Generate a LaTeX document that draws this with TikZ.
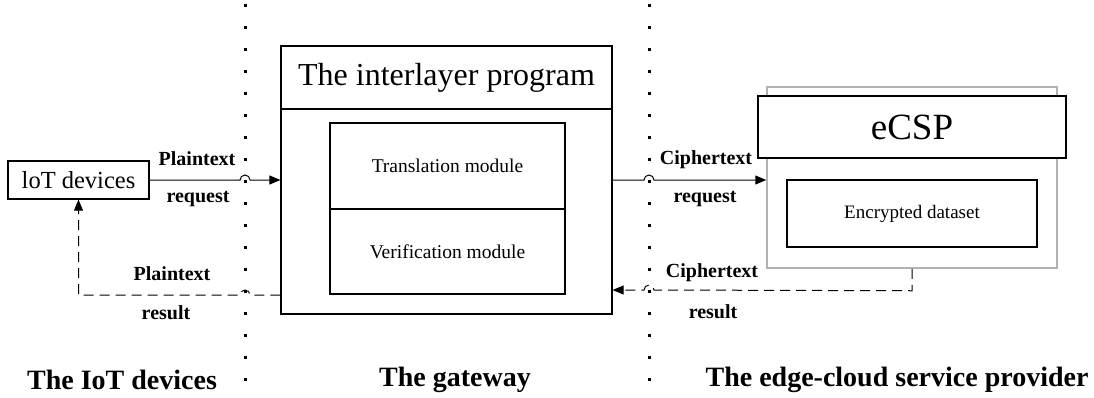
\documentclass[tikz,border=0pt]{standalone}
\usepackage{fontspec}
\setmainfont{Liberation Serif}
\usetikzlibrary{arrows.meta}

\begin{document}
\begin{tikzpicture}[x=1pt,y=-1pt,>={Triangle[length=11pt,width=9pt]},
	box/.style={draw,line width=1.2pt,inner sep=0pt,align=center},
	lbl/.style={font=\fontsize{20}{20}\selectfont\bfseries},
	layer/.style={font=\fontsize{28}{28}\selectfont\bfseries}]
	\useasboundingbox (0,0) rectangle (1094,397);
	% borders between the layers
	\draw[line width=3pt,dash pattern=on 3pt off 19pt](245,4)--(245,394) (649,4)--(649,394);
	% IoT side
	\node[box,minimum width=141,minimum height=38,font=\fontsize{24.5}{24.5}\selectfont] (iot) at (78.5,180) {loT devices};
	% gateway
	\node[box,minimum width=331,minimum height=268] (gw) at (446.5,180) {};
	\node[box,minimum width=331,minimum height=63,font=\fontsize{32}{32}\selectfont] (prog) at (446.5,77.5) {The interlayer program};
	\node[box,minimum width=235,minimum height=86,font=\fontsize{19.5}{19.5}\selectfont] (trans) at (447.5,166) {Translation module};
	\node[box,minimum width=235,minimum height=85,font=\fontsize{19.5}{19.5}\selectfont] (verif) at (447.5,251.5) {Verification module};
	% edge cloud
	\node[draw=gray!60,line width=1.5pt,minimum width=290,minimum height=181] (ecsp) at (912,177.5) {};
	\node[box,fill=white,minimum width=308,minimum height=62,font=\fontsize{37}{37}\selectfont] (head) at (912,127) {eCSP};
	\node[box,minimum width=250,minimum height=67,font=\fontsize{19}{19}\selectfont] (enc) at (912,213.5) {Encrypted dataset};
	% requests
	\draw[->,line width=1pt](iot.east)--(240,180) arc(180:360:5)--(gw.west);
	\draw[->,line width=1pt](gw.east)--(644,180) arc(180:360:5)--(ecsp.west |- gw.east);
	% results
	\draw[->,line width=1pt,dash pattern=on 10pt off 6pt](ecsp.south)--++(0,22)--(654,290) arc(0:-180:5)--(gw.east |- 0,290);
	\draw[->,line width=1pt,dash pattern=on 10pt off 6pt](gw.west |- 0,295)--(250,295) arc(0:-180:5) -| (iot.south);
	\node[lbl] (preq1) at (197,159) {Plaintext};
	\node[lbl] (preq2) at (198,199) {request};
	\node[lbl] (creq1) at (706,160) {Ciphertext};
	\node[lbl] (creq2) at (705,199) {request};
	\node[lbl] (cres1) at (712,273) {Ciphertext};
	\node[lbl] (cres2) at (713,312) {result};
	\node[lbl] (pres1) at (172,274) {Plaintext};
	\node[lbl] (pres2) at (166,313) {result};
	% layer names
	\node[layer] (l1) at (122,380) {The IoT devices};
	\node[layer] (l2) at (455,380) {The gateway};
	\node[layer] (l3) at (897,380) {The edge-cloud service provider};
\end{tikzpicture}
\end{document}
